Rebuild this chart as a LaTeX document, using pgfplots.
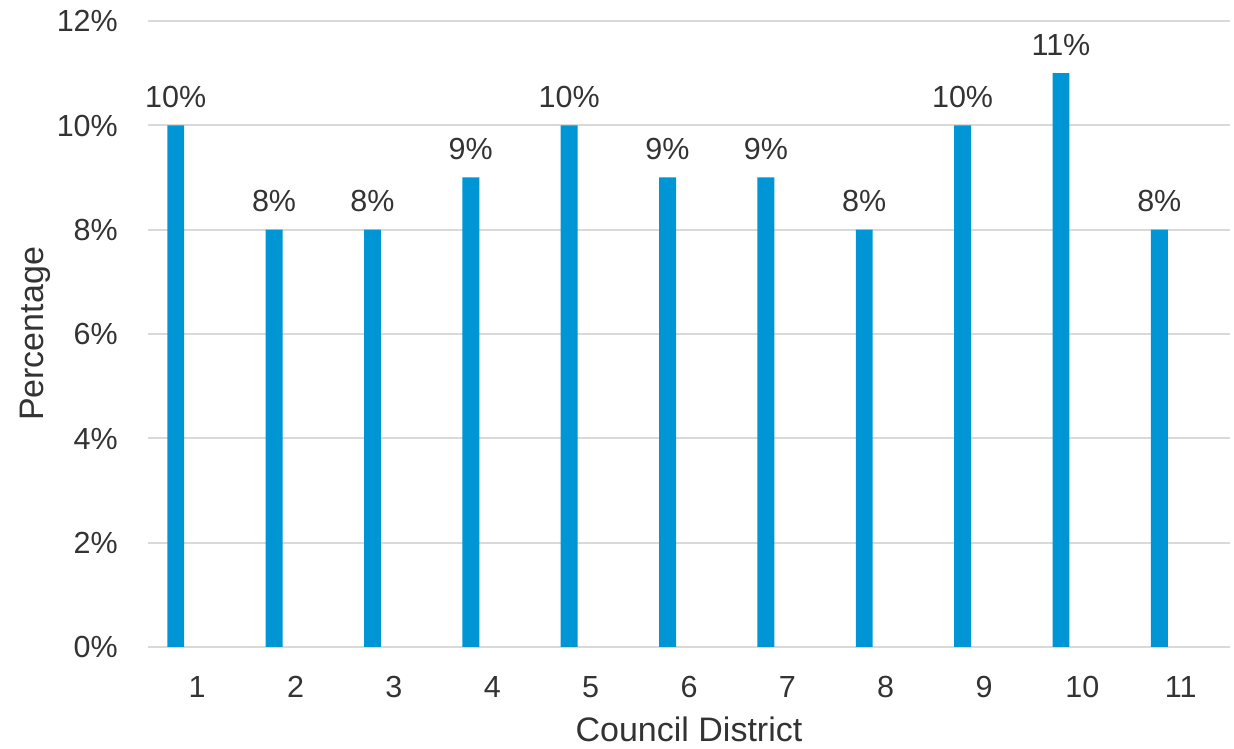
\documentclass[border=0pt]{standalone}
\usepackage{pgfplots}
\pgfplotsset{compat=1.18}
\usepackage{fontspec}
\setmainfont{Liberation Sans}
\definecolor{barblue}{HTML}{0096D6}
\definecolor{gridgray}{HTML}{D9D9D9}
\definecolor{textgray}{HTML}{333333}

\begin{document}
\begin{tikzpicture}
\begin{axis}[
  scale only axis,
  width=1082pt, height=626pt,
  xmin=0.5, xmax=11.5,
  ymin=0, ymax=12,
  ytick={0,2,4,6,8,10,12},
  yticklabel={\pgfmathprintnumber{\tick}\%},
  xtick={1,...,11},
  axis x line*=bottom,
  axis y line*=left,
  x axis line style={gridgray, line width=2pt, -},
  y axis line style={draw=none},
  major tick length=0pt,
  ymajorgrids,
  grid style={gridgray, line width=2pt},
  /pgf/number format/assume math mode=true,
  tick label style={font=\fontsize{30.5}{36}\selectfont, text=textgray, inner sep=0pt},
  xticklabel style={anchor=base, yshift=-51pt},
  yticklabel style={anchor=base east, xshift=-30pt, yshift=-11pt},
  xlabel={Council District},
  ylabel={Percentage},
  label style={font=\fontsize{34}{40}\selectfont, text=textgray, inner sep=0pt},
  xlabel style={at={(axis description cs:0.5,0)}, anchor=base, yshift=-94pt},
  ylabel style={at={(axis description cs:0,0.5)}, anchor=center, yshift=113pt},
  clip=false,
]
% share of residents by council district (percent)
\addplot[
  ybar, bar width=0.172, bar shift=-0.218,
  fill=barblue, draw=none,
  nodes near coords={\pgfmathprintnumber{\pgfplotspointmeta}\%},
  every node near coord/.append style={
    font=\fontsize{30.5}{36}\selectfont, text=textgray,
    inner sep=0pt, anchor=base, yshift=18pt, xshift=-21.5pt,
  },
] coordinates {
  (1,10) (2,8) (3,8) (4,9) (5,10) (6,9)
  (7,9) (8,8) (9,10) (10,11) (11,8)
};
\end{axis}
\pgfresetboundingbox
\path[use as bounding box] (-148pt,-102pt) rectangle (1086pt,647pt);
\end{tikzpicture}
\end{document}
